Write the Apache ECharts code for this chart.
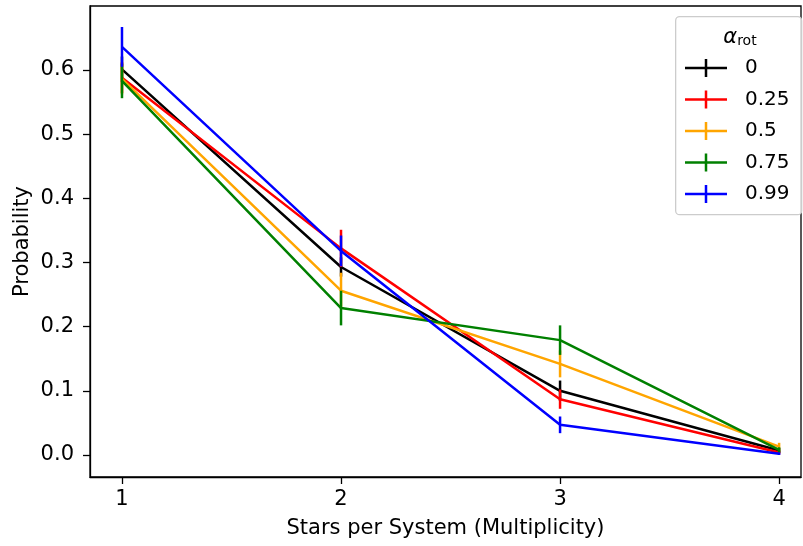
<!DOCTYPE html>
<html><head><meta charset="utf-8">
<script src="https://cdn.jsdelivr.net/npm/echarts@6/dist/echarts.min.js"></script>
<style>html,body{margin:0;padding:0;background:#fff}#c{width:803px;height:546px}</style>
</head><body><div id="c"></div>
<script>
const multiplicity = [1, 2, 3, 4];
const seriesNames = ['0', '0.25', '0.5', '0.75', '0.99'];
const colors = ['#000000', '#ff0000', '#ffa500', '#008000', '#0000ff'];
const vals0 = [0.601, 0.293, 0.100, 0.007];
const vals025 = [0.588, 0.322, 0.087, 0.004];
const vals05 = [0.586, 0.256, 0.142, 0.013];
const vals075 = [0.583, 0.229, 0.179, 0.008];
const vals099 = [0.636, 0.318, 0.047, 0.002];
const err0 = [0.020, 0.015, 0.016, 0.004];
const err025 = [0.024, 0.029, 0.015, 0.003];
const err05 = [0.024, 0.028, 0.021, 0.006];
const err075 = [0.027, 0.027, 0.023, 0.004];
const err099 = [0.031, 0.024, 0.013, 0.002];
const yTicks = [0, 0.1, 0.2, 0.3, 0.4, 0.5, 0.6];

const allVals = [vals0, vals025, vals05, vals075, vals099];
const allErr = [err0, err025, err05, err075, err099];
const FONT = 'DejaVu Sans';
const LW = 2.5;

const series = [];
allVals.forEach((v, i) => {
  series.push({
    type: 'line', name: seriesNames[i], z: 2 + i * 2,
    data: multiplicity.map((x, k) => [x, v[k]]),
    symbol: 'none', lineStyle: { color: colors[i], width: LW }, itemStyle: { color: colors[i] },
    animation: false
  });
  series.push({
    type: 'custom', name: seriesNames[i], z: 3 + i * 2,
    data: multiplicity.map((x, k) => [x, v[k] - allErr[i][k], v[k] + allErr[i][k]]),
    renderItem: (params, api) => {
      const lo = api.coord([api.value(0), api.value(1)]);
      const hi = api.coord([api.value(0), api.value(2)]);
      return { type: 'line', shape: { x1: lo[0], y1: lo[1], x2: hi[0], y2: hi[1] },
        style: { stroke: colors[i], lineWidth: LW } };
    },
    itemStyle: { color: colors[i] }, animation: false
  });
});

const chart = echarts.init(document.getElementById('c'));
chart.setOption({
  animation: false,
  grid: { left: 90, right: 2, top: 6, bottom: 69, show: true, borderColor: '#000', borderWidth: 1.3, backgroundColor: 'transparent' },
  xAxis: {
    type: 'value', min: 0.854, max: 4.1,
    name: 'Stars per System (Multiplicity)', nameLocation: 'middle', nameGap: 41, nameMoveOverlap: false,
    nameTextStyle: { fontFamily: FONT, fontSize: 21, color: '#000' },
    axisLine: { show: true, onZero: false, lineStyle: { color: '#000', width: 1.3 } },
    axisTick: { show: true, length: 7, lineStyle: { color: '#000', width: 1.3 }, customValues: multiplicity },
    axisLabel: { fontFamily: FONT, fontSize: 21, color: '#000', margin: 12, customValues: multiplicity },
    splitLine: { show: false }
  },
  yAxis: {
    type: 'value', min: -0.0343, max: 0.6997,
    name: 'Probability', nameLocation: 'middle', nameGap: 57, nameRotate: 90, nameMoveOverlap: false,
    nameTextStyle: { fontFamily: FONT, fontSize: 21, color: '#000' },
    axisLine: { show: true, onZero: false, lineStyle: { color: '#000', width: 1.3 } },
    axisTick: { show: true, length: 7, lineStyle: { color: '#000', width: 1.3 }, customValues: yTicks },
    axisLabel: { fontFamily: FONT, fontSize: 21, color: '#000', margin: 16, customValues: yTicks,
      formatter: v => v.toFixed(1) },
    splitLine: { show: false }
  },
  legend: {
    orient: 'vertical', left: 685, top: 58, padding: 0, itemWidth: 42, itemHeight: 18, itemGap: 11.5,
    data: seriesNames.map((n, i) => ({ name: n, icon: 'path://M0,7.75h42v2.5h-42z M19.75,0h2.5v18h-2.5z', itemStyle: { color: colors[i] } })),
    textStyle: { fontFamily: FONT, fontSize: 20, lineHeight: 18, color: '#000', padding: [0, 0, 0, 13] },
    selectedMode: false
  },
  graphic: [
    { type: 'rect', left: 675, top: 16, z: 0, shape: { width: 126, height: 198, r: 4 },
      style: { fill: 'rgba(255,255,255,0.8)', stroke: '#cccccc', lineWidth: 1.3 } },
    { type: 'text', x: 740, y: 37, z: 10,
      style: { text: '{a|α}{s|rot}', align: 'center', verticalAlign: 'middle', rich: {
        a: { fontFamily: FONT, fontSize: 21, fontStyle: 'italic', fill: '#000', verticalAlign: 'bottom' },
        s: { fontFamily: FONT, fontSize: 14, fill: '#000', verticalAlign: 'bottom', padding: [8, 0, 0, 0] } } } }
  ],
  series: series
});
</script></body></html>
